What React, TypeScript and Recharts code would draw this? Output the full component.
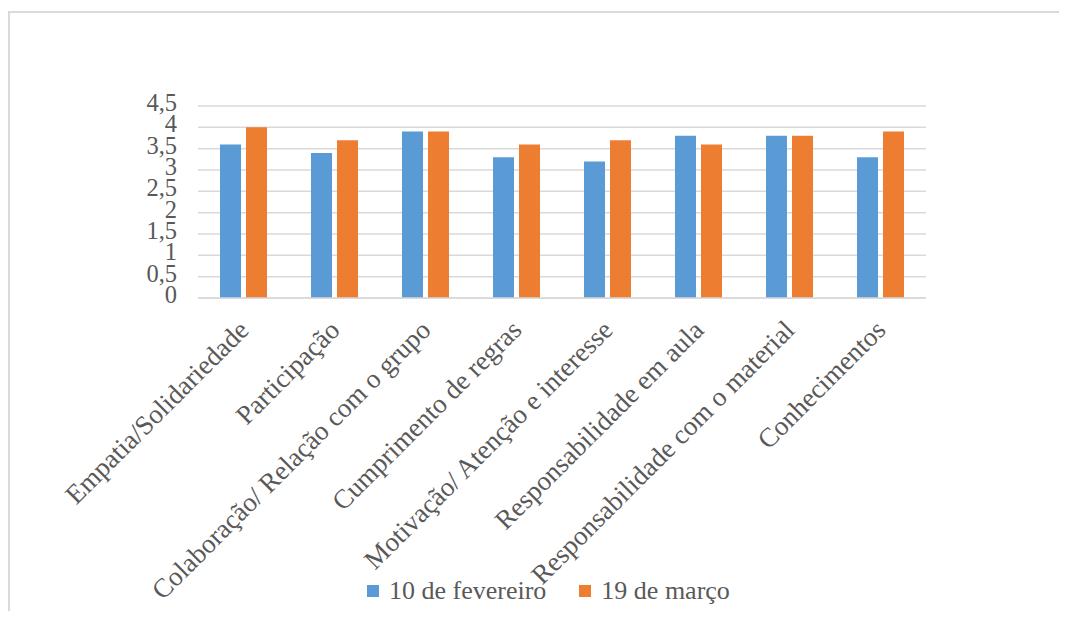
import React from "react";
import { BarChart, Bar, XAxis, YAxis, CartesianGrid, Legend } from "recharts";

const categories = [
  "Empatia/Solidariedade",
  "Participação",
  "Colaboração/ Relação com o grupo",
  "Cumprimento de regras",
  "Motivação/ Atenção e interesse",
  "Responsabilidade em aula",
  "Responsabilidade com o material",
  "Conhecimentos",
];
const fevereiro = [3.6, 3.4, 3.9, 3.3, 3.2, 3.8, 3.8, 3.3];
const marco = [4.0, 3.7, 3.9, 3.6, 3.7, 3.6, 3.8, 3.9];
const yTicks = [0, 0.5, 1, 1.5, 2, 2.5, 3, 3.5, 4, 4.5];

const SERIES = [
  { key: "fev", name: "10 de fevereiro", color: "#5B9BD5" },
  { key: "mar", name: "19 de março", color: "#ED7D31" },
];

const data = categories.map((name, i) => ({
  name,
  fev: fevereiro[i],
  mar: marco[i],
}));

const FONT = "'Liberation Serif', 'Times New Roman', serif";
const TEXT = "#595959";
const GRID = "#d9d9d9";

const CategoryTick = ({ x, y, payload }: any) => (
  <g transform={`translate(${x},${y + 27})`}>
    <text
      transform="rotate(-45)"
      textAnchor="end"
      dy="0.35em"
      fontSize={27}
      fill={TEXT}
      fontFamily={FONT}
    >
      {payload.value}
    </text>
  </g>
);

const ValueTick = ({ x, y, payload }: any) => (
  <text x={x} y={y} dy={5} textAnchor="end" fontSize={24.5} fill={TEXT} fontFamily={FONT}>
    {String(payload.value).replace(".", ",")}
  </text>
);

const LegendContent = () => (
  <div style={{ display: "flex", alignItems: "center", height: 30 }}>
    {SERIES.map((s, i) => (
      <div
        key={s.key}
        style={{ display: "flex", alignItems: "center", marginLeft: i === 0 ? 0 : 33 }}
      >
        <span style={{ width: 12, height: 12, background: s.color, display: "inline-block" }} />
        <span
          style={{
            marginLeft: 10,
            fontSize: 26,
            lineHeight: "30px",
            color: TEXT,
            fontFamily: FONT,
            whiteSpace: "nowrap",
          }}
        >
          {s.name}
        </span>
      </div>
    ))}
  </div>
);

export default function App() {
  return (
    <div style={{ paddingTop: 3 }}>
      <div
        style={{
          width: 1057,
          height: 598,
          borderTop: `2px solid ${GRID}`,
          borderLeft: `2px solid ${GRID}`,
          background: "#fff",
        }}
      >
        <BarChart
          width={1057}
          height={598}
          data={data}
          margin={{ top: 93, right: 141, bottom: 0, left: 0 }}
          barGap={5}
        >
          <CartesianGrid vertical={false} stroke={GRID} strokeWidth={1.5} />
          <XAxis
            dataKey="name"
            interval={0}
            height={313}
            tickLine={false}
            tickSize={0}
            tickMargin={0}
            axisLine={{ stroke: GRID, strokeWidth: 1.5 }}
            tick={<CategoryTick />}
          />
          <YAxis
            width={188}
            domain={[0, 4.5]}
            ticks={yTicks}
            interval={0}
            axisLine={false}
            tickLine={false}
            tickSize={0}
            tickMargin={21}
            tick={<ValueTick />}
          />
          <Legend
            layout="horizontal"
            verticalAlign="middle"
            align="center"
            content={<LegendContent />}
            wrapperStyle={{ left: 357, top: 563, width: "auto", height: 30 }}
          />
          {SERIES.map((s) => (
            <Bar
              key={s.key}
              dataKey={s.key}
              name={s.name}
              fill={s.color}
              barSize={21}
              isAnimationActive={false}
            />
          ))}
        </BarChart>
      </div>
    </div>
  );
}
